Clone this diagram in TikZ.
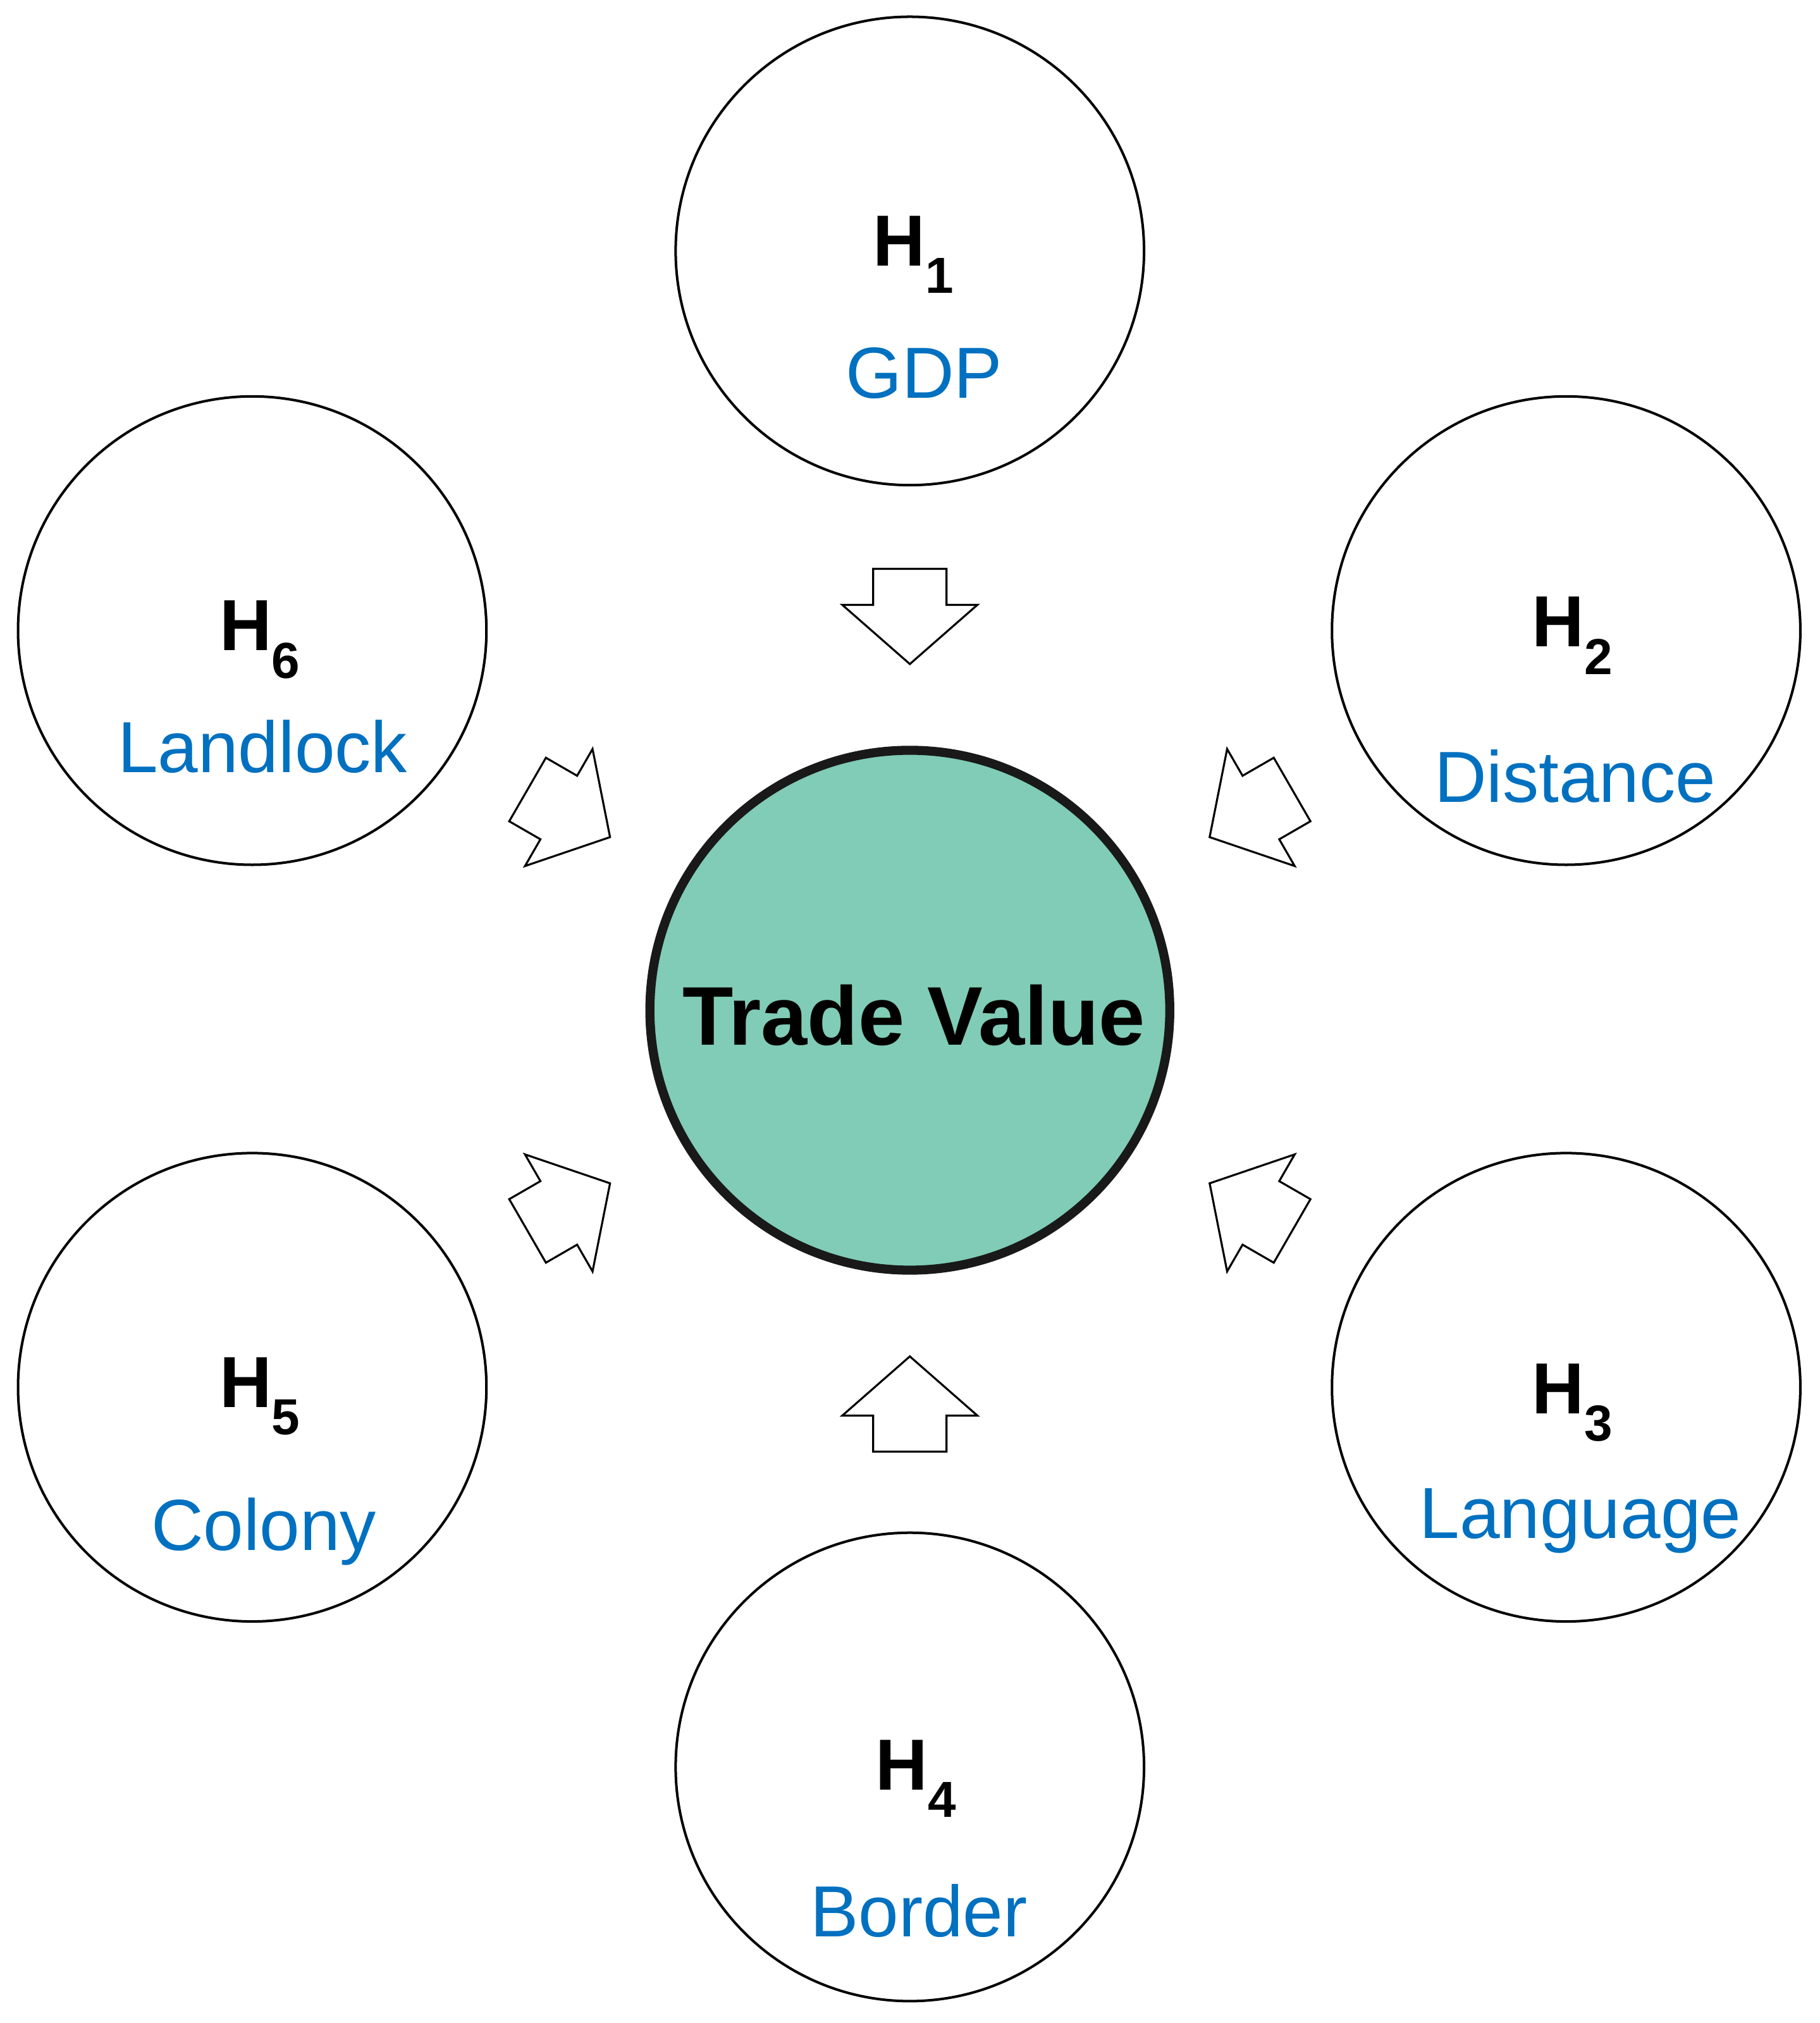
\documentclass[tikz,border=0pt]{standalone}
\usepackage{fontspec}
\setmainfont{Liberation Sans}
\usetikzlibrary{calc}
\definecolor{lblue}{RGB}{0,112,192}
\definecolor{tgreen}{RGB}{128,204,182}
\begin{document}
\begin{tikzpicture}[x=0.05cm,y=-0.05cm,
  hc/.style={circle,draw,line width=2.8pt,minimum size=18.2cm,inner sep=0},
  hl/.style={font=\fontsize{80}{90}\selectfont\bfseries},
  bl/.style={font=\fontsize{80}{90}\selectfont,text=lblue},
  barrow/.style={draw,line width=2.2pt,fill=white,line join=miter}]
\useasboundingbox (0,0) rectangle (1414,1572);
\node[circle,draw=black!90,line width=10pt,fill=tgreen,minimum size=20.2cm,inner sep=0] (c) at (707,785) {};
\node[font=\fontsize{92}{100}\selectfont\bfseries] (ct) at (710,789) {Trade Value};
\foreach \n/\x/\y/\hx/\hy/\lx/\ly/\lab in {
  1/707/195/710/198/718/290/GDP,
  2/1217/490/1222/494/1224/603/Distance,
  3/1217/1078/1222/1090/1228/1182/Language,
  4/707/1373/712/1382/714/1485/Border,
  5/196/1078/202/1085/205/1190/Colony,
  6/196/490/202/497/204/580/Landlock}{
  \node[hc] (h\n) at (\x,\y) {};
  \node[hl] (t\n) at (\hx,\hy) {H\textsubscript{\n}};
  \node[bl] (l\n) at (\lx,\ly) {\lab};
}
\foreach \ang [count=\i] in {90,30,-30,-90,-150,150}{
  \begin{scope}[shift={($(c)+(\ang:306 and -306)$)},rotate=\ang+180]
    \coordinate (a\i) at (0,0);
    \draw[barrow] (-37,-28.5) -- (-9,-28.5) -- (-9,-52.5) -- (37,0) -- (-9,52.5) -- (-9,28.5) -- (-37,28.5) -- cycle;
  \end{scope}
}
\end{tikzpicture}
\end{document}
